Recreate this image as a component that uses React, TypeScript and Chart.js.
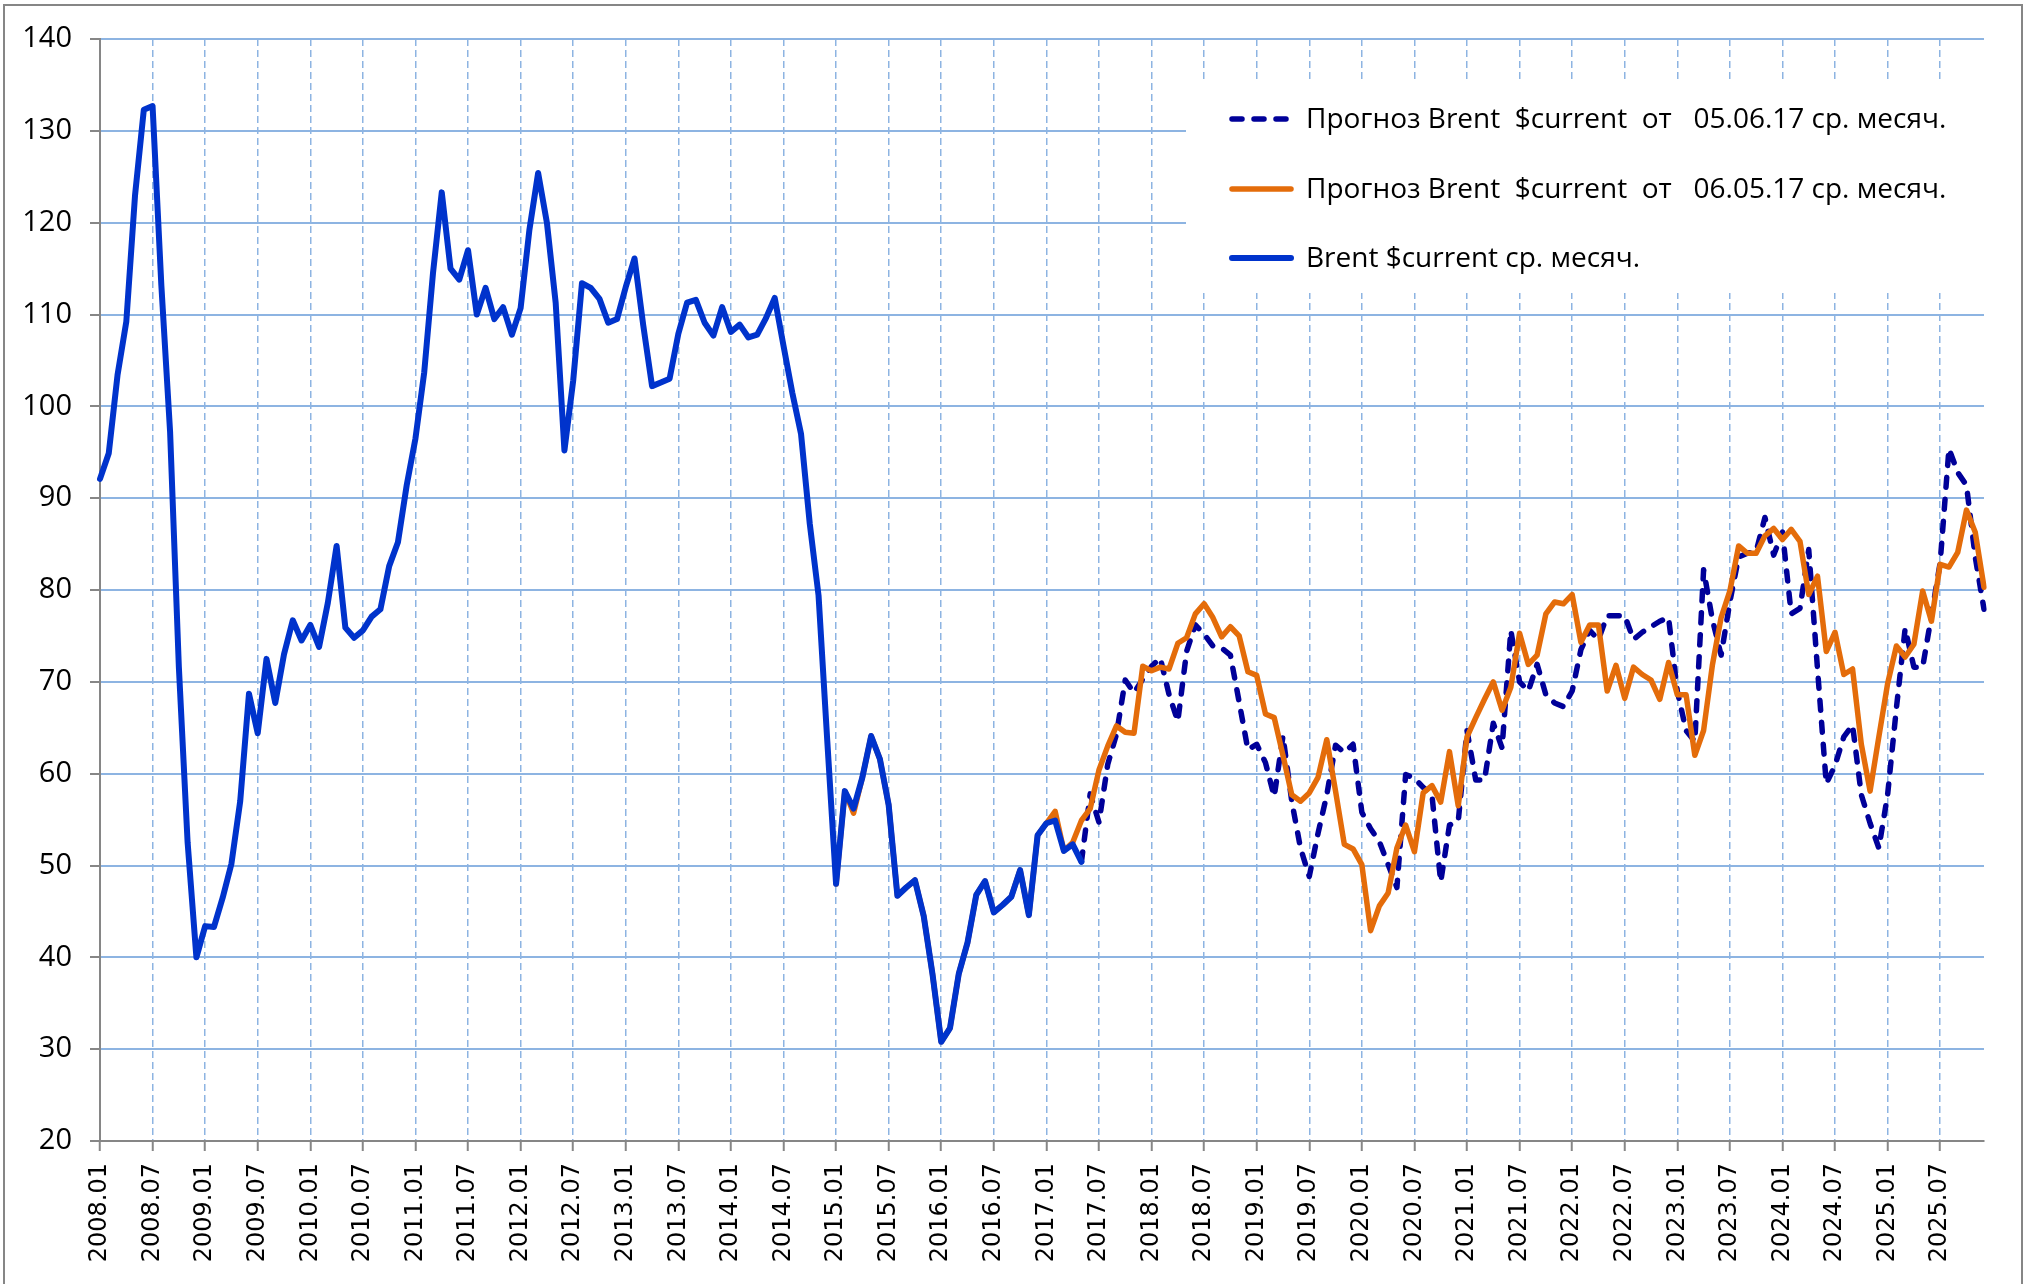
import React, { useEffect, useRef } from 'react';
import { Chart, registerables } from 'chart.js';

Chart.register(...registerables);

// ---------- categories / tick labels ----------
const YEARS = [2008, 2009, 2010, 2011, 2012, 2013, 2014, 2015, 2016, 2017, 2018, 2019, 2020, 2021, 2022, 2023, 2024, 2025];
const MONTHS = ['01', '02', '03', '04', '05', '06', '07', '08', '09', '10', '11', '12'];
const categories: string[] = YEARS.flatMap((y) => MONTHS.map((m) => `${y}.${m}`));
const Y_MIN = 20;
const Y_MAX = 140;
const Y_STEP = 10;

// ---------- series ----------
const LEGEND_ACTUAL = 'Brent $current ср. месяч.';
const LEGEND_F0605 = 'Прогноз Brent  $current  от   06.05.17 ср. месяч.';
const LEGEND_F0506 = 'Прогноз Brent  $current  от   05.06.17 ср. месяч.';

// Brent actual monthly average, from 2008.01
const actualStart = '2008.01';
const brentActual = [
  92.1, 94.9, 103.4, 109.2, 123.0, 132.3, 132.7, 113.2, 97.2, 71.6, 52.5, 40.0,
  43.4, 43.3, 46.5, 50.2, 57.0, 68.7, 64.4, 72.5, 67.7, 73.0, 76.7, 74.5,
  76.2, 73.8, 78.6, 84.8, 75.9, 74.8, 75.6, 77.1, 77.9, 82.6, 85.2, 91.4,
  96.5, 103.7, 114.5, 123.3, 115.0, 113.8, 117.0, 110.0, 112.9, 109.5, 110.8, 107.8,
  110.7, 119.2, 125.4, 120.0, 111.3, 95.2, 102.8, 113.4, 112.9, 111.7, 109.1, 109.5,
  113.0, 116.1, 108.8, 102.2, 102.6, 103.0, 107.9, 111.3, 111.6, 109.1, 107.7, 110.8,
  108.1, 108.9, 107.5, 107.8, 109.6, 111.8, 106.6, 101.5, 97.0, 87.2, 79.4, 63.5,
  48.0, 58.1, 56.2, 59.6, 64.1, 61.6, 56.6, 46.7, 47.6, 48.4, 44.5, 38.2,
  30.8, 32.3, 38.2, 41.6, 46.8, 48.3, 44.9, 45.7, 46.6, 49.5, 44.6, 53.3,
  54.6, 54.9, 51.6, 52.3, 50.4,
];

// Forecast of 06.05.17, from 2015.01
const f0605Start = '2015.01';
const forecast0605 = [
  48.0, 58.1, 55.7, 59.6, 64.1, 61.6, 56.6, 46.7, 47.6, 48.4, 44.5, 38.2,
  30.8, 32.3, 38.2, 41.6, 46.8, 48.3, 44.9, 45.7, 46.6, 49.5, 44.6, 53.3,
  54.6, 55.9, 51.6, 52.5, 54.9, 56.2, 60.4, 63.0, 65.2, 64.5, 64.4, 71.7,
  71.2, 71.6, 71.4, 74.2, 74.8, 77.4, 78.5, 77.0, 74.9, 76.0, 75.0, 71.1,
  70.7, 66.5, 66.1, 62.0, 57.7, 57.0, 57.9, 59.6, 63.7, 58.1, 52.3, 51.8,
  50.1, 42.9, 45.6, 47.0, 51.9, 54.4, 51.5, 57.9, 58.7, 56.9, 62.4, 56.5,
  64.0, 66.1, 68.1, 70.0, 66.9, 69.4, 75.3, 71.9, 72.9, 77.4, 78.7, 78.5,
  79.5, 74.3, 76.2, 76.2, 69.0, 71.8, 68.2, 71.6, 70.8, 70.2, 68.1, 72.1,
  68.6, 68.6, 62.0, 64.7, 71.8, 77.0, 79.9, 84.8, 84.0, 84.0, 85.9, 86.7,
  85.5, 86.6, 85.3, 79.5, 81.5, 73.3, 75.4, 70.8, 71.4, 63.2, 58.1, 64.0,
  69.8, 73.9, 72.7, 74.1, 79.9, 76.6, 82.8, 82.5, 84.1, 88.7, 86.3, 80.3,
];

// Forecast of 05.06.17, from 2017.05
const f0506Start = '2017.05';
const forecast0506 = [
  50.4, 57.8, 54.7, 61.0, 64.3, 70.2, 68.8, 70.3,
  71.7, 72.6, 68.6, 65.7, 73.3, 76.2, 75.2, 73.9, 73.7, 72.9, 67.8, 62.6,
  63.2, 61.2, 57.5, 64.1, 57.0, 51.9, 48.8, 53.5, 57.7, 63.1, 62.3, 63.2,
  55.8, 54.0, 52.6, 50.1, 47.6, 59.9, 59.5, 58.5, 57.7, 48.2, 54.4, 54.8,
  64.7, 59.3, 59.3, 65.5, 62.8, 75.6, 70.0, 69.0, 71.9, 68.6, 67.7, 67.3,
  69.0, 73.5, 75.6, 74.6, 77.2, 77.2, 77.2, 74.6, 75.4, 76.0, 76.6, 77.0,
  69.0, 64.7, 63.5, 82.2, 76.8, 72.9, 78.7, 83.6, 84.0, 84.2, 87.9, 83.8,
  86.3, 77.4, 78.0, 84.4, 71.4, 58.9, 60.9, 64.0, 65.3, 57.7, 54.6, 51.9,
  57.7, 67.1, 75.8, 71.6, 71.6, 77.2, 83.0, 95.4, 92.8, 91.4, 83.6, 77.9,
];

// ---------- styles ----------
const C_ACTUAL = '#0033CC';
const C_F0605 = '#E46C0A';
const C_F0506 = '#000099';
const C_GRID = '#8DB4E2';
const C_AXIS = '#868686';
const DASH_F0506 = [10, 12];

function place(start: string, values: number[]): (number | null)[] {
  const out: (number | null)[] = new Array(categories.length).fill(null);
  const i0 = categories.indexOf(start);
  values.forEach((v, k) => {
    if (i0 + k < out.length) out[i0 + k] = v;
  });
  return out;
}

const legendItems = [
  { label: LEGEND_F0506, color: C_F0506, dash: DASH_F0506, width: 5.5 },
  { label: LEGEND_F0605, color: C_F0605, dash: [] as number[], width: 5.5 },
  { label: LEGEND_ACTUAL, color: C_ACTUAL, dash: [] as number[], width: 6 },
];

const boxLegendPlugin = {
  id: 'boxLegend',
  beforeDatasetsDraw(chart: any) {
    const { ctx, chartArea } = chart;
    ctx.save();
    const bx = 1186;
    const by = 82;
    ctx.fillStyle = '#ffffff';
    ctx.fillRect(bx, by, chartArea.right - bx + 2, 293 - by);
    const rowY = [119, 189, 258];
    legendItems.forEach((it, i) => {
      const y = rowY[i];
      ctx.beginPath();
      ctx.strokeStyle = it.color;
      ctx.lineWidth = it.width;
      ctx.lineCap = 'round';
      ctx.setLineDash(it.dash);
      ctx.moveTo(1232, y);
      ctx.lineTo(1291, y);
      ctx.stroke();
      ctx.setLineDash([]);
      ctx.fillStyle = '#000000';
      ctx.font = '28px "Open Sans"';
      ctx.textBaseline = 'middle';
      ctx.textAlign = 'left';
      ctx.fillText(it.label, 1306, y + 1);
    });
    ctx.restore();
  },
};

const frameBorderPlugin = {
  id: 'frameBorder',
  afterDraw(chart: any) {
    const { ctx } = chart;
    ctx.save();
    ctx.strokeStyle = C_AXIS;
    ctx.lineWidth = 2;
    ctx.strokeRect(4, 5, 2018, 1300);
    ctx.restore();
  },
};

export default function App() {
  const canvasRef = useRef<HTMLCanvasElement | null>(null);

  useEffect(() => {
    if (!canvasRef.current) return;
    const chart = new Chart(canvasRef.current, {
      type: 'line',
      data: {
        labels: categories,
        datasets: [
          {
            label: LEGEND_ACTUAL,
            data: place(actualStart, brentActual),
            borderColor: C_ACTUAL,
            backgroundColor: C_ACTUAL,
            borderWidth: 6,
            pointRadius: 0,
            tension: 0,
            borderJoinStyle: 'round',
            borderCapStyle: 'round',
            spanGaps: false,
          },
          {
            label: LEGEND_F0605,
            data: place(f0605Start, forecast0605),
            borderColor: C_F0605,
            backgroundColor: C_F0605,
            borderWidth: 5.5,
            pointRadius: 0,
            tension: 0,
            borderJoinStyle: 'round',
            borderCapStyle: 'round',
            spanGaps: false,
          },
          {
            label: LEGEND_F0506,
            data: place(f0506Start, forecast0506),
            borderColor: C_F0506,
            backgroundColor: C_F0506,
            borderWidth: 5.5,
            borderDash: DASH_F0506,
            pointRadius: 0,
            tension: 0,
            borderJoinStyle: 'round',
            borderCapStyle: 'round',
            spanGaps: false,
          },
        ],
      },
      options: {
        responsive: false,
        animation: false,
        devicePixelRatio: 1,
        layout: { padding: { top: 39, right: 42, left: 0, bottom: 0 } },
        plugins: {
          legend: { display: false },
          tooltip: { enabled: false },
        },
        scales: {
          x: {
            type: 'category',
            offset: false,
            grid: {
              color: (c: any) => (c.index % 6 === 0 && c.index > 0 ? C_GRID : 'rgba(0,0,0,0)'),
              lineWidth: 1.5,
              tickLength: 10,
              tickWidth: 2,
              tickColor: (c: any) => (c.index % 6 === 0 ? C_AXIS : 'rgba(0,0,0,0)'),
            },
            border: { color: C_AXIS, width: 2, dash: [7, 4] },
            ticks: {
              autoSkip: false,
              maxRotation: 90,
              minRotation: 90,
              padding: 12,
              color: '#000000',
              font: { family: 'DejaVu Sans', size: 24 },
              callback: (_v: any, i: number) => (i % 6 === 0 ? categories[i] : ''),
            },
            afterFit: (s: any) => {
              s.height = 143;
            },
          },
          y: {
            min: Y_MIN,
            max: Y_MAX,
            ticks: {
              stepSize: Y_STEP,
              padding: 18,
              color: '#000000',
              font: { family: 'Open Sans', size: 29 },
            },
            grid: {
              color: (c: any) => (c.tick && c.tick.value === Y_MIN ? C_AXIS : C_GRID),
              lineWidth: 2,
              tickLength: 10,
              tickWidth: 2,
              tickColor: C_AXIS,
            },
            border: { color: C_AXIS, width: 2 },
            afterFit: (s: any) => {
              s.width = 100;
            },
          },
        },
      } as any,
      plugins: [boxLegendPlugin, frameBorderPlugin],
    });
    return () => chart.destroy();
  }, []);

  return (
    <div style={{ position: 'absolute', left: 0, top: 0, width: 2026, height: 1284, background: '#fff', overflow: 'hidden' }}>
      <canvas ref={canvasRef} width={2026} height={1284} style={{ display: 'block' }} />
    </div>
  );
}
